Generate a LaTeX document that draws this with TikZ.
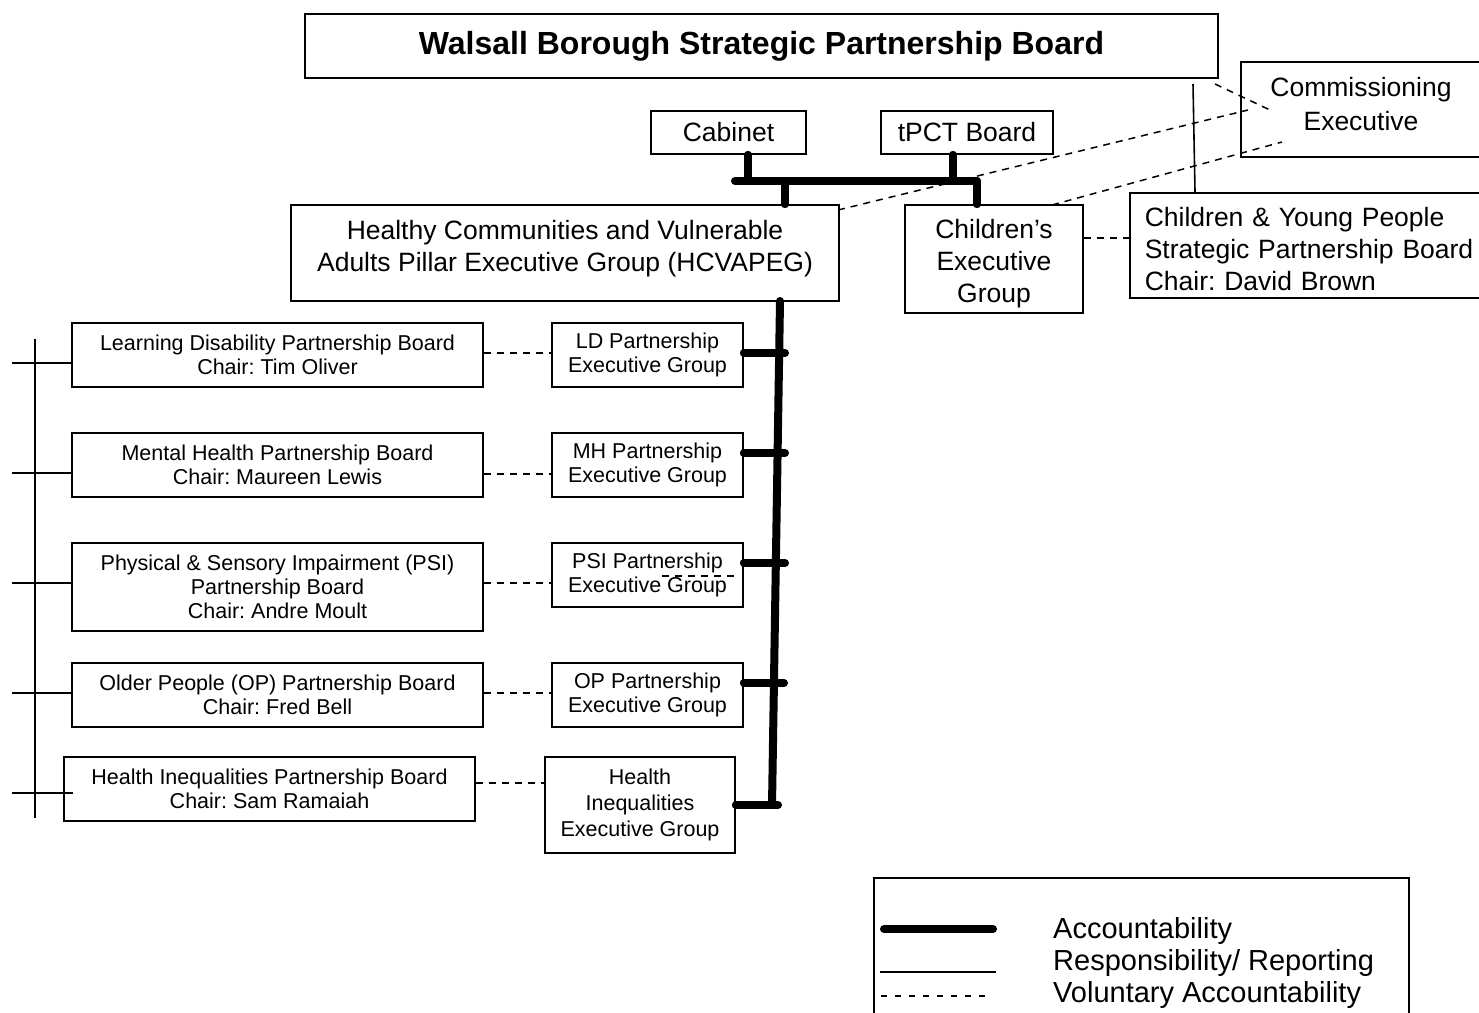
\documentclass[tikz,border=0pt]{standalone}
\usepackage{fontspec}
\setmainfont{Liberation Sans}
\usetikzlibrary{positioning}
\frenchspacing

\begin{document}
\begin{tikzpicture}[x=1pt,y=-1pt,
  box/.style={draw,line width=1.6pt,inner sep=0pt,align=center},
  small/.style={box,font=\fontsize{21.5}{24}\selectfont},
  big/.style={box,font=\fontsize{26.5}{32}\selectfont},
  acc/.style={line width=8pt,line cap=round},
  resp/.style={line width=1.6pt},
  vol/.style={line width=1.5pt,dash pattern=on 7pt off 6pt}]
  \useasboundingbox (0,0) rectangle (1479,1012);

  % top level
  \node[box,font=\fontsize{32}{38}\selectfont\bfseries,minimum width=913pt,minimum height=64pt] (wbsp) at (761.5,46) {Walsall Borough Strategic Partnership Board\rule[-4pt]{0pt}{4pt}};
  \node[big,minimum width=155pt,minimum height=43pt] (cab) at (728.5,132.5) {Cabinet};
  \node[big,minimum width=172pt,minimum height=43pt] (tpct) at (967,132.5) {tPCT Board};
  \node[big,minimum width=240pt,minimum height=95pt,font=\fontsize{26.5}{34}\selectfont] (comm) at (1361,109.5) {Commissioning\\Executive\rule[-12pt]{0pt}{12pt}};
  \node[big,minimum width=548pt,minimum height=96pt] (hcv) at (565,253) {Healthy Communities and Vulnerable\\Adults Pillar Executive Group (HCVAPEG)\rule[-14pt]{0pt}{14pt}};
  \node[big,minimum width=178pt,minimum height=108pt] (ceg) at (994,259) {\rule{0pt}{28pt}Children’s\\Executive\\Group};
  \node[big,anchor=west,text width=340pt,inner xsep=15pt,align=left,minimum height=105pt] (cyp) at (1129,245.5) {\rule{0pt}{26pt}Children \& Young People\\Strategic Partnership Board\\Chair: David Brown};

  % partnership boards
  \node[small,minimum width=411pt,minimum height=64pt] (ldb) at (277.5,355) {Learning Disability Partnership Board\\Chair: Tim Oliver};
  \node[small,minimum width=411pt,minimum height=64pt] (mhb) at (277.5,465) {Mental Health Partnership Board\\Chair: Maureen Lewis};
  \node[small,minimum width=411pt,minimum height=88pt] (psib) at (277.5,587) {Physical \& Sensory Impairment (PSI)\\Partnership Board\\Chair: Andre Moult};
  \node[small,minimum width=411pt,minimum height=64pt] (opb) at (277.5,695) {Older People (OP) Partnership Board\\Chair: Fred Bell};
  \node[small,minimum width=411pt,minimum height=64pt] (hib) at (269.5,789) {Health Inequalities Partnership Board\\Chair: Sam Ramaiah};

  % executive groups
  \node[small,minimum width=191pt,minimum height=64pt] (ldg) at (647.5,355) {LD Partnership\\Executive Group};
  \node[small,minimum width=191pt,minimum height=64pt] (mhg) at (647.5,465) {MH Partnership\\Executive Group};
  \node[small,minimum width=191pt,minimum height=64pt] (psig) at (647.5,575) {PSI Partnership\\Executive Group};
  \node[small,minimum width=191pt,minimum height=64pt] (opg) at (647.5,695) {OP Partnership\\Executive Group};
  \node[small,minimum width=190pt,minimum height=96pt,font=\fontsize{21.5}{26}\selectfont] (hig) at (640,805) {Health\\Inequalities\\Executive Group};

  % accountability
  \coordinate (barL) at (735,181);
  \coordinate (barR) at (977,181);
  \draw[acc] (barL) -- (barR);
  \draw[acc] (cab.south -| 748,0) -- (748,181);
  \draw[acc] (tpct.south -| 953,0) -- (953,181);
  \draw[acc] (785,181) -- (hcv.north -| 785,0);
  \draw[acc] (barR) -- (ceg.north -| barR);
  \coordinate (spinetop) at (780,301);
  \coordinate (spinebot) at (772,805);
  \draw[acc] (spinetop) -- (spinebot);
  \foreach \g/\yy/\xx in {ldg/353/785, mhg/453/785, psig/563/785, opg/683/784, hig/805/778}
    \draw[acc] (\g.east |- 0,\yy) -- (\xx,\yy);

  % responsibility / reporting
  \draw[resp] (1193,84) -- (cyp.north -| 1195,0);
  \draw[resp] (35,339) -- (35,818);
  \foreach \b/\yy in {ldb/363, mhb/473, psib/583, opb/693}
    \draw[resp] (12,\yy) -- (\b.west |- 0,\yy);
  \draw[resp] (12,793) -- (73,793);

  % voluntary accountability
  \foreach \b/\g/\yy in {ldb/ldg/353, mhb/mhg/474, psib/psig/583, opb/opg/693, hib/hig/783}
    \draw[vol] (\b.east |- 0,\yy) -- (\g.west |- 0,\yy);
  \draw[vol] (662,576) -- (734,576);
  \draw[vol] (ceg.east |- 0,238) -- (cyp.west |- 0,238);
  \draw[vol] (838,210) -- (1248,110);
  \draw[vol] (1052,205) -- (1282,142);
  \draw[vol] (1215,84) -- (1270,110);

  % key
  \node[draw,line width=1.6pt,minimum width=535pt,minimum height=160pt,anchor=north west] (key) at (873,877) {};
  \draw[acc] (884,929) -- (993,929);
  \draw[resp] (880,972) -- (996,972);
  \draw[vol,dash pattern=on 6pt off 8pt] (881,996) -- (990,996);
  \node[anchor=west,align=left,inner sep=0pt,font=\fontsize{29}{32}\selectfont] (keytext) at (1053,963) {Accountability\\Responsibility/ Reporting\\Voluntary Accountability};
\end{tikzpicture}
\end{document}
